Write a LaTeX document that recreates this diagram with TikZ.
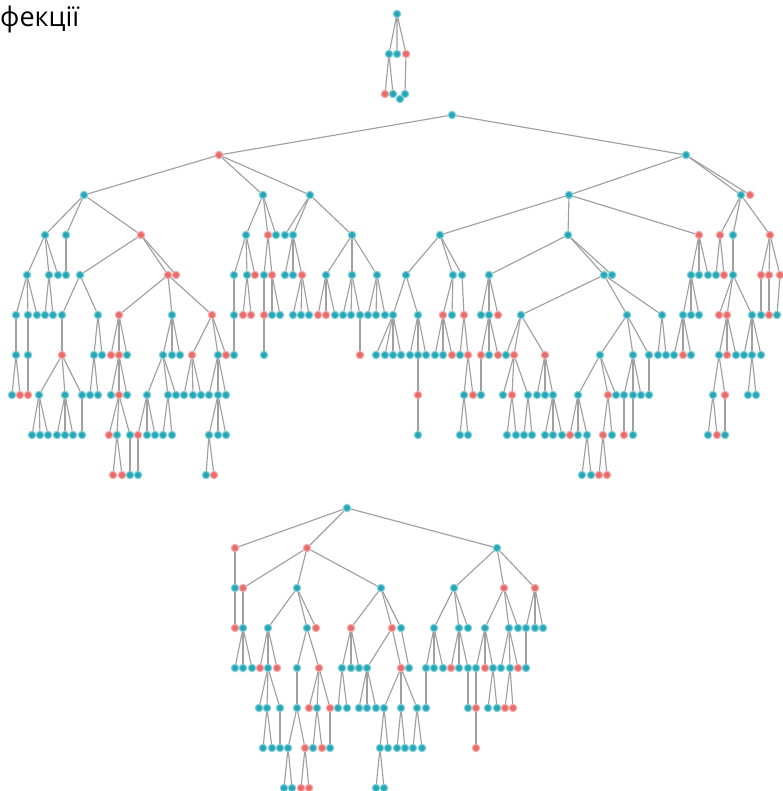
\documentclass[tikz,border=0pt]{standalone}
\usepackage{fontspec}
\setmainfont{Open Sans}
\definecolor{tc}{RGB}{36,168,184}
\definecolor{rc}{RGB}{234,108,106}
\definecolor{ec}{RGB}{160,160,160}
\tikzset{nd/.style={circle,inner sep=0pt,minimum size=7.4pt,fill=#1,draw=#1!55!white,line width=1.1pt},
 edgeline/.style={draw=ec,line width=1.15pt}}
\newcommand\addkids[5]{%
 \foreach \nX/\nC in {#5}{%
  \node[nd=\nC] (#1#3x\nX) at (\nX,{#2+40*#3}) {};
  \draw[edgeline] (#4) -- (#1#3x\nX);}}
\newcommand\kidsA[3]{\addkids{a}{115}{#1}{#2}{#3}}
\newcommand\kidsB[3]{\addkids{b}{508}{#1}{#2}{#3}}
\begin{document}
\begin{tikzpicture}[x=1pt,y=-1pt]
\path[use as bounding box] (0,0) rectangle (782,791);
\node[anchor=base west,inner sep=0pt,font=\fontsize{27}{31}\selectfont] (title) at (0,27) {фекції};
% small tree
\node[nd=tc] (s0) at (397,14) {};
\node[nd=tc] (s1a) at (389,54) {};
\node[nd=tc] (s1b) at (397,54) {};
\node[nd=rc] (s1c) at (406,54) {};
\node[nd=rc] (s2a) at (385,94) {};
\node[nd=tc] (s2b) at (393,94) {};
\node[nd=tc] (s2c) at (405,94) {};
\node[nd=tc] (s2d) at (400,99) {};
\draw[edgeline] (s0) -- (s1a) (s0) -- (s1b) (s0) -- (s1c) (s1a) -- (s2a) (s1a) -- (s2b) (s1c) -- (s2c);
% big tree
\node[nd=tc] (a0) at (452,115) {};
\kidsA{1}{a0}{219/rc,686/tc}
\kidsA{2}{a1x219}{84/tc,263/tc,310/tc}
\kidsA{2}{a1x686}{569/tc,741/tc,750/rc}
\kidsA{3}{a2x84}{45/tc,66/tc,141/rc}
\kidsA{3}{a2x263}{246/tc,268/rc,276/tc}
\kidsA{3}{a2x310}{285/tc,293/tc,352/tc}
\kidsA{3}{a2x569}{440/tc,568/tc,699/rc}
\kidsA{3}{a2x741}{720/rc,733/tc,770/rc}
\kidsA{4}{a3x45}{27/tc,49/tc,58/tc}
\kidsA{4}{a3x66}{66/tc}
\kidsA{4}{a3x141}{80/tc,168/rc,176/rc}
\kidsA{4}{a3x246}{234/tc,247/tc,255/rc}
\kidsA{4}{a3x268}{264/tc,272/rc}
\kidsA{4}{a3x293}{285/tc,293/tc,302/rc}
\kidsA{4}{a3x352}{326/tc,352/tc,377/tc}
\kidsA{4}{a3x440}{406/tc,453/tc,462/tc}
\kidsA{4}{a3x568}{489/tc,604/tc,612/tc}
\kidsA{4}{a3x699}{691/tc,699/tc,708/tc}
\kidsA{4}{a3x720}{716/tc,724/rc}
\kidsA{4}{a3x733}{733/tc}
\kidsA{4}{a3x770}{761/rc,769/rc,780/rc}
\kidsA{5}{a4x27}{16/tc,28/tc,37/tc}
\kidsA{5}{a4x49}{45/tc,53/tc}
\kidsA{5}{a4x80}{62/tc,98/tc}
\kidsA{5}{a4x168}{119/rc,172/tc,212/rc}
\kidsA{5}{a4x234}{234/tc}
\kidsA{5}{a4x247}{243/rc,251/rc}
\kidsA{5}{a4x264}{264/rc}
\kidsA{5}{a4x272}{272/tc,280/tc}
\kidsA{5}{a4x302}{293/tc,301/tc,309/tc}
\kidsA{5}{a4x326}{318/rc,326/rc,335/tc}
\kidsA{5}{a4x352}{343/tc,351/tc,360/tc}
\kidsA{5}{a4x377}{368/tc,376/tc,385/tc}
\kidsA{5}{a4x406}{393/tc,418/tc}
\kidsA{5}{a4x453}{443/rc,452/tc}
\kidsA{5}{a4x462}{464/rc}
\kidsA{5}{a4x489}{481/tc,489/tc,498/rc}
\kidsA{5}{a4x604}{521/tc,627/tc,662/tc}
\kidsA{5}{a4x691}{683/tc,691/tc,699/tc}
\kidsA{5}{a4x733}{719/rc,727/rc,752/tc}
\kidsA{5}{a4x761}{761/tc}
\kidsA{5}{a4x769}{769/rc}
\kidsA{5}{a4x780}{777/tc}
\kidsA{6}{a5x16}{16/tc}
\kidsA{6}{a5x28}{28/tc}
\kidsA{6}{a5x62}{62/rc}
\kidsA{6}{a5x98}{94/tc,102/tc}
\kidsA{6}{a5x119}{111/rc,119/rc,127/tc}
\kidsA{6}{a5x172}{163/tc,172/tc,180/tc}
\kidsA{6}{a5x212}{192/rc,218/tc,226/rc}
\kidsA{6}{a5x234}{234/tc}
\kidsA{6}{a5x264}{264/tc}
\kidsA{6}{a5x360}{360/rc}
\kidsA{6}{a5x393}{376/tc,385/tc,393/tc,401/tc}
\kidsA{6}{a5x418}{410/tc,418/tc,426/tc}
\kidsA{6}{a5x443}{435/tc,443/tc,452/rc}
\kidsA{6}{a5x464}{460/tc,468/rc}
\kidsA{6}{a5x489}{481/rc,489/tc,498/rc}
\kidsA{6}{a5x521}{506/tc,514/rc,545/rc}
\kidsA{6}{a5x627}{600/tc,633/tc,649/tc}
\kidsA{6}{a5x662}{658/tc,666/tc}
\kidsA{6}{a5x683}{674/tc,683/rc,691/tc}
\kidsA{6}{a5x727}{719/tc,727/rc,736/tc}
\kidsA{6}{a5x752}{744/tc,752/tc,761/tc}
\kidsA{7}{a6x16}{12/tc,20/rc}
\kidsA{7}{a6x28}{28/rc}
\kidsA{7}{a6x62}{39/tc,65/tc,82/tc}
\kidsA{7}{a6x94}{90/tc,98/tc}
\kidsA{7}{a6x119}{111/tc,119/rc,127/tc}
\kidsA{7}{a6x163}{147/tc,168/tc,176/tc}
\kidsA{7}{a6x192}{184/tc,193/tc,201/tc}
\kidsA{7}{a6x218}{209/tc,218/tc,226/tc}
\kidsA{7}{a6x418}{418/rc}
\kidsA{7}{a6x468}{464/tc,473/rc}
\kidsA{7}{a6x481}{481/tc}
\kidsA{7}{a6x514}{503/tc,512/rc,528/tc}
\kidsA{7}{a6x545}{537/tc,545/tc,553/tc}
\kidsA{7}{a6x600}{578/tc,608/rc,616/tc}
\kidsA{7}{a6x633}{624/tc,633/tc,641/tc}
\kidsA{7}{a6x649}{649/tc}
\kidsA{7}{a6x719}{713/tc,725/rc}
\kidsA{7}{a6x752}{748/tc,756/tc}
\kidsA{8}{a7x39}{32/tc,40/tc,48/tc}
\kidsA{8}{a7x65}{57/tc,65/tc,73/tc}
\kidsA{8}{a7x82}{82/tc}
\kidsA{8}{a7x119}{109/rc,117/tc,130/tc}
\kidsA{8}{a7x147}{138/rc,147/tc,155/tc}
\kidsA{8}{a7x168}{163/tc,172/tc}
\kidsA{8}{a7x218}{209/tc,218/tc,226/tc}
\kidsA{8}{a7x418}{418/tc}
\kidsA{8}{a7x464}{460/tc,468/tc}
\kidsA{8}{a7x512}{507/tc,516/tc}
\kidsA{8}{a7x528}{524/tc,532/tc}
\kidsA{8}{a7x553}{545/tc,553/tc,562/tc}
\kidsA{8}{a7x578}{570/rc,578/tc,587/tc}
\kidsA{8}{a7x608}{603/rc,612/tc}
\kidsA{8}{a7x624}{624/rc}
\kidsA{8}{a7x633}{633/tc}
\kidsA{8}{a7x713}{708/tc,717/rc}
\kidsA{8}{a7x725}{725/tc}
\kidsA{9}{a8x117}{113/rc,122/rc}
\kidsA{9}{a8x130}{130/tc}
\kidsA{9}{a8x138}{138/tc}
\kidsA{9}{a8x209}{206/tc,214/rc}
\kidsA{9}{a8x587}{582/tc,591/tc}
\kidsA{9}{a8x603}{599/rc,607/rc}
% bottom tree
\node[nd=tc] (b0) at (347,508) {};
\kidsB{1}{b0}{235/rc,307/rc,497/tc}
\kidsB{2}{b1x235}{235/tc}
\kidsB{2}{b1x307}{243/rc,297/tc,381/tc}
\kidsB{2}{b1x497}{454/tc,504/rc,535/rc}
\kidsB{3}{b2x235}{235/rc}
\kidsB{3}{b2x243}{243/tc}
\kidsB{3}{b2x297}{268/tc,307/tc,316/rc}
\kidsB{3}{b2x381}{351/rc,392/rc,401/tc}
\kidsB{3}{b2x454}{434/tc,459/tc,468/tc}
\kidsB{3}{b2x504}{485/tc,509/tc,518/tc}
\kidsB{3}{b2x535}{526/tc,535/tc,543/tc}
\kidsB{4}{b3x243}{235/tc,243/tc,252/tc}
\kidsB{4}{b3x268}{260/rc,268/tc,277/rc}
\kidsB{4}{b3x307}{297/tc,319/rc}
\kidsB{4}{b3x351}{342/tc,351/tc,359/tc}
\kidsB{4}{b3x392}{367/tc,401/rc}
\kidsB{4}{b3x401}{409/tc}
\kidsB{4}{b3x434}{426/tc,434/tc,443/tc}
\kidsB{4}{b3x459}{451/rc,459/tc,468/tc}
\kidsB{4}{b3x485}{476/tc,485/rc,493/tc}
\kidsB{4}{b3x509}{501/tc,510/tc,518/rc}
\kidsB{4}{b3x526}{526/tc}
\kidsB{5}{b4x268}{259/tc,267/tc,280/tc}
\kidsB{5}{b4x297}{297/tc}
\kidsB{5}{b4x319}{309/rc,317/tc,330/rc}
\kidsB{5}{b4x342}{338/tc,347/tc}
\kidsB{5}{b4x367}{359/tc,367/tc,376/tc}
\kidsB{5}{b4x401}{384/tc,401/tc,417/tc}
\kidsB{5}{b4x426}{426/tc}
\kidsB{5}{b4x468}{468/tc}
\kidsB{5}{b4x476}{476/rc}
\kidsB{5}{b4x493}{488/tc,497/tc}
\kidsB{5}{b4x510}{505/rc,513/rc}
\kidsB{6}{b5x267}{263/tc,272/tc}
\kidsB{6}{b5x280}{280/tc}
\kidsB{6}{b5x297}{288/tc,305/rc}
\kidsB{6}{b5x317}{313/tc,322/rc}
\kidsB{6}{b5x330}{330/tc}
\kidsB{6}{b5x384}{380/tc,388/tc}
\kidsB{6}{b5x401}{397/tc,405/tc}
\kidsB{6}{b5x417}{413/tc,422/tc}
\kidsB{6}{b5x476}{476/rc}
\kidsB{7}{b6x288}{284/tc,292/tc}
\kidsB{7}{b6x305}{301/rc,309/rc}
\kidsB{7}{b6x380}{376/tc,384/tc}
\end{tikzpicture}
\end{document}
